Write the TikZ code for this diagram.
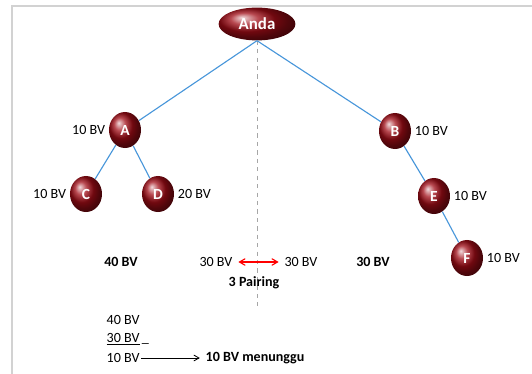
\documentclass[tikz,border=0pt]{standalone}
\usepackage{fontspec}
\setmainfont{Carlito}
\usetikzlibrary{shapes.geometric, arrows, positioning}
\definecolor{edgeblue}{RGB}{72,150,218}
\definecolor{ballred}{RGB}{160,12,22}

\begin{document}
\begin{tikzpicture}[
        x=0.025cm, y=-0.025cm,
        font=\fontsize{10}{12}\selectfont,
        member/.style={draw=none, ellipse, minimum width=0.8cm, minimum height=0.9cm, inner sep=0pt, shading=ball, ball color=ballred, text=white, font=\fontsize{11}{13}\selectfont\bfseries},
        root/.style={member, minimum width=1.92cm, minimum height=0.82cm, font=\fontsize{12}{14}\selectfont\bfseries},
        link/.style={draw=edgeblue, line width=0.8pt},
        bv/.style={inner sep=1pt},
        total/.style={inner sep=1pt, font=\fontsize{10}{12}\selectfont\bfseries},
        arr/.style={>=angle 60, shorten >=3pt, shorten <=3pt}
    ]
        \useasboundingbox (0,0) rectangle (532,374);
        % frame of the screenshot
        \draw[gray!35, line width=1pt] (12,374) -- (12,6) -- (532,6);

        % tree
        \node[root]   (anda) at (257,24)  {Anda};
        \node[member] (A)    at (125,130) {A};
        \node[member] (B)    at (395,131) {B};
        \node[member] (C)    at (86,194)  {C};
        \node[member] (D)    at (158,194) {D};
        \node[member] (E)    at (434,196) {E};
        \node[member] (F)    at (467,258) {F};

        \coordinate (split) at (257,308);
        \draw[gray!70, dashed, line width=0.5pt] (anda.south) -- (split);

        \draw[link] (anda.south) -- (A);
        \draw[link] (anda.south) -- (B);
        \draw[link] (A) -- (C);
        \draw[link] (A) -- (D);
        \draw[link] (B) -- (E);
        \draw[link] (E) -- (F);

        \node[bv, left=0.5mm of A]  (bvA) {10 BV};
        \node[bv, right=0.5mm of B] (bvB) {10 BV};
        \node[bv, left=0.5mm of C]  (bvC) {10 BV};
        \node[bv, right=0.5mm of D] (bvD) {20 BV};
        \node[bv, right=0.5mm of E] (bvE) {10 BV};
        \node[bv, right=0.5mm of F] (bvF) {10 BV};

        % totals and pairing
        \node[total] (left)  at (121,262) {40 BV};
        \node[bv]    (pairL) at (216,262) {30 BV};
        \node[bv]    (pairR) at (301,262) {30 BV};
        \node[total] (right) at (373,262) {30 BV};
        \node[total] (pairing) at (254,283) {3 Pairing};
        \draw[arr, <->, red, line width=0.8pt] (pairL) -- (pairR);

        % remainder
        \node[bv, anchor=west] (sumA) at (105,320) {40 BV};
        \node[bv, anchor=west] (sumB) at (105,339) {\underline{30 BV}\,\_};
        \node[bv, anchor=west] (sumC) at (105,358) {10 BV};
        \node[total, anchor=west] (wait) at (204,358) {10 BV menunggu};
        \draw[arr, ->, line width=0.6pt, shorten <=0pt] (sumC) -- (wait);
    \end{tikzpicture}
\end{document}
